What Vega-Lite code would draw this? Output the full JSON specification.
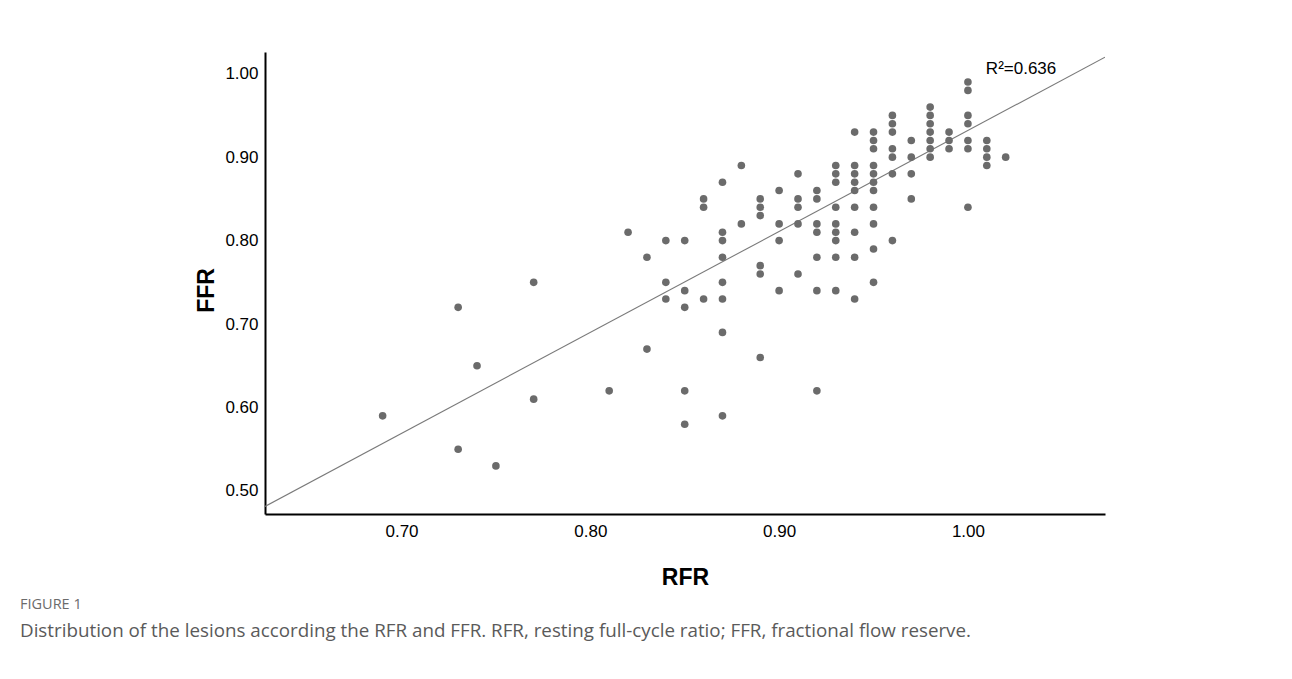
{
  "$schema": "https://vega.github.io/schema/vega-lite/v6.json",
  "width": 840,
  "height": 462,
  "autosize": {"type": "none"},
  "padding": {"left": 265, "top": 52, "right": 187, "bottom": 165},
  "background": "white",
  "config": {
    "view": {"stroke": null},
    "axis": {
      "domainColor": "#000000",
      "domainWidth": 2,
      "ticks": false,
      "grid": false,
      "labelFont": "Liberation Sans",
      "labelFontSize": 17,
      "labelColor": "#000000",
      "titleFont": "Liberation Sans",
      "titleFontSize": 23,
      "titleFontWeight": "bold",
      "titleColor": "#000000"
    }
  },
  "title": {
    "text": "FIGURE 1",
    "subtitle": "Distribution of the lesions according the RFR and FFR. RFR, resting full-cycle ratio; FFR, fractional flow reserve.",
    "orient": "bottom",
    "anchor": "start",
    "frame": "group",
    "dx": -245,
    "offset": 9,
    "font": "Open Sans",
    "fontSize": 14.5,
    "fontWeight": "normal",
    "color": "#6b6b6b",
    "subtitleFont": "Open Sans",
    "subtitleFontSize": 18.8,
    "subtitleColor": "#5a5a5a",
    "subtitlePadding": 9
  },
  "datasets": {
    "points": [
      {"RFR": 0.69, "FFR": 0.59},
      {"RFR": 0.73, "FFR": 0.72}, {"RFR": 0.73, "FFR": 0.55},
      {"RFR": 0.74, "FFR": 0.65},
      {"RFR": 0.75, "FFR": 0.53},
      {"RFR": 0.77, "FFR": 0.75}, {"RFR": 0.77, "FFR": 0.61},
      {"RFR": 0.81, "FFR": 0.62},
      {"RFR": 0.82, "FFR": 0.81},
      {"RFR": 0.83, "FFR": 0.78}, {"RFR": 0.83, "FFR": 0.67},
      {"RFR": 0.84, "FFR": 0.80}, {"RFR": 0.84, "FFR": 0.75}, {"RFR": 0.84, "FFR": 0.73},
      {"RFR": 0.85, "FFR": 0.80}, {"RFR": 0.85, "FFR": 0.74}, {"RFR": 0.85, "FFR": 0.72}, {"RFR": 0.85, "FFR": 0.62}, {"RFR": 0.85, "FFR": 0.58},
      {"RFR": 0.86, "FFR": 0.85}, {"RFR": 0.86, "FFR": 0.84}, {"RFR": 0.86, "FFR": 0.73},
      {"RFR": 0.87, "FFR": 0.87}, {"RFR": 0.87, "FFR": 0.81}, {"RFR": 0.87, "FFR": 0.80}, {"RFR": 0.87, "FFR": 0.78}, {"RFR": 0.87, "FFR": 0.75}, {"RFR": 0.87, "FFR": 0.73}, {"RFR": 0.87, "FFR": 0.69}, {"RFR": 0.87, "FFR": 0.59},
      {"RFR": 0.88, "FFR": 0.89}, {"RFR": 0.88, "FFR": 0.82},
      {"RFR": 0.89, "FFR": 0.85}, {"RFR": 0.89, "FFR": 0.84}, {"RFR": 0.89, "FFR": 0.83}, {"RFR": 0.89, "FFR": 0.77}, {"RFR": 0.89, "FFR": 0.76}, {"RFR": 0.89, "FFR": 0.66},
      {"RFR": 0.90, "FFR": 0.86}, {"RFR": 0.90, "FFR": 0.82}, {"RFR": 0.90, "FFR": 0.80}, {"RFR": 0.90, "FFR": 0.74},
      {"RFR": 0.91, "FFR": 0.88}, {"RFR": 0.91, "FFR": 0.85}, {"RFR": 0.91, "FFR": 0.84}, {"RFR": 0.91, "FFR": 0.82}, {"RFR": 0.91, "FFR": 0.76},
      {"RFR": 0.92, "FFR": 0.86}, {"RFR": 0.92, "FFR": 0.85}, {"RFR": 0.92, "FFR": 0.82}, {"RFR": 0.92, "FFR": 0.81}, {"RFR": 0.92, "FFR": 0.78}, {"RFR": 0.92, "FFR": 0.74}, {"RFR": 0.92, "FFR": 0.62},
      {"RFR": 0.93, "FFR": 0.89}, {"RFR": 0.93, "FFR": 0.88}, {"RFR": 0.93, "FFR": 0.87}, {"RFR": 0.93, "FFR": 0.84}, {"RFR": 0.93, "FFR": 0.82}, {"RFR": 0.93, "FFR": 0.81}, {"RFR": 0.93, "FFR": 0.80}, {"RFR": 0.93, "FFR": 0.78}, {"RFR": 0.93, "FFR": 0.74},
      {"RFR": 0.94, "FFR": 0.93}, {"RFR": 0.94, "FFR": 0.89}, {"RFR": 0.94, "FFR": 0.88}, {"RFR": 0.94, "FFR": 0.87}, {"RFR": 0.94, "FFR": 0.86}, {"RFR": 0.94, "FFR": 0.84}, {"RFR": 0.94, "FFR": 0.81}, {"RFR": 0.94, "FFR": 0.78}, {"RFR": 0.94, "FFR": 0.73},
      {"RFR": 0.95, "FFR": 0.93}, {"RFR": 0.95, "FFR": 0.92}, {"RFR": 0.95, "FFR": 0.91}, {"RFR": 0.95, "FFR": 0.89}, {"RFR": 0.95, "FFR": 0.88}, {"RFR": 0.95, "FFR": 0.87}, {"RFR": 0.95, "FFR": 0.86}, {"RFR": 0.95, "FFR": 0.84}, {"RFR": 0.95, "FFR": 0.82}, {"RFR": 0.95, "FFR": 0.79}, {"RFR": 0.95, "FFR": 0.75},
      {"RFR": 0.96, "FFR": 0.95}, {"RFR": 0.96, "FFR": 0.94}, {"RFR": 0.96, "FFR": 0.93}, {"RFR": 0.96, "FFR": 0.91}, {"RFR": 0.96, "FFR": 0.90}, {"RFR": 0.96, "FFR": 0.88}, {"RFR": 0.96, "FFR": 0.80},
      {"RFR": 0.97, "FFR": 0.92}, {"RFR": 0.97, "FFR": 0.90}, {"RFR": 0.97, "FFR": 0.88}, {"RFR": 0.97, "FFR": 0.85},
      {"RFR": 0.98, "FFR": 0.96}, {"RFR": 0.98, "FFR": 0.95}, {"RFR": 0.98, "FFR": 0.94}, {"RFR": 0.98, "FFR": 0.93}, {"RFR": 0.98, "FFR": 0.92}, {"RFR": 0.98, "FFR": 0.91}, {"RFR": 0.98, "FFR": 0.90},
      {"RFR": 0.99, "FFR": 0.93}, {"RFR": 0.99, "FFR": 0.92}, {"RFR": 0.99, "FFR": 0.91},
      {"RFR": 1.00, "FFR": 0.99}, {"RFR": 1.00, "FFR": 0.98}, {"RFR": 1.00, "FFR": 0.95}, {"RFR": 1.00, "FFR": 0.94}, {"RFR": 1.00, "FFR": 0.92}, {"RFR": 1.00, "FFR": 0.91}, {"RFR": 1.00, "FFR": 0.84},
      {"RFR": 1.01, "FFR": 0.92}, {"RFR": 1.01, "FFR": 0.91}, {"RFR": 1.01, "FFR": 0.90}, {"RFR": 1.01, "FFR": 0.89},
      {"RFR": 1.02, "FFR": 0.90}
    ],
    "fit": [
      {"RFR": 0.6277, "FFR": 0.4815},
      {"RFR": 1.0726, "FFR": 1.0198}
    ],
    "annot": [
      {"RFR": 1.0095, "FFR": 1.0056, "label": "R²=0.636"}
    ]
  },
  "layer": [
    {
      "data": {"name": "fit"},
      "mark": {"type": "line", "color": "#7a7a7a", "strokeWidth": 1.1, "clip": true},
      "encoding": {
        "x": {"field": "RFR", "type": "quantitative"},
        "y": {"field": "FFR", "type": "quantitative"}
      }
    },
    {
      "data": {"name": "points"},
      "mark": {"type": "circle", "color": "#6b6b6b", "opacity": 1, "size": 58},
      "encoding": {
        "x": {
          "field": "RFR",
          "type": "quantitative",
          "scale": {"domain": [0.6277, 1.0726], "nice": false, "zero": false},
          "axis": {"values": [0.7, 0.8, 0.9, 1.0], "format": ".2f", "title": "RFR", "labelPadding": 9, "titlePadding": 27}
        },
        "y": {
          "field": "FFR",
          "type": "quantitative",
          "scale": {"domain": [0.4724, 1.026], "nice": false, "zero": false},
          "axis": {"values": [0.5, 0.6, 0.7, 0.8, 0.9, 1.0], "format": ".2f", "title": "FFR", "labelPadding": 7, "titlePadding": 6, "titleY": 238}
        }
      }
    },
    {
      "data": {"name": "annot"},
      "mark": {"type": "text", "align": "left", "baseline": "middle", "font": "Liberation Sans", "fontSize": 17, "color": "#000000"},
      "encoding": {
        "x": {"field": "RFR", "type": "quantitative"},
        "y": {"field": "FFR", "type": "quantitative"},
        "text": {"field": "label"}
      }
    }
  ]
}
